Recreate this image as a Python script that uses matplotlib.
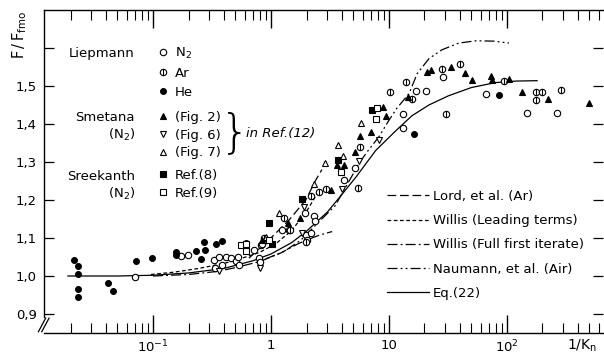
import numpy as np
import matplotlib.pyplot as plt
from matplotlib.lines import Line2D
from matplotlib.ticker import NullFormatter, LogLocator

plt.rcParams['font.family'] = ['DejaVu Sans']
plt.rcParams['mathtext.fontset'] = 'dejavusans'

# ---------------- DATA ----------------
# Liepmann, He (filled circles)
he_x = [0.0214, 0.0231, 0.0231, 0.0231, 0.0231, 0.0416, 0.0458, 0.0718, 0.098, 0.157,
        0.157, 0.231, 0.270, 0.276, 0.255, 0.342, 0.384, 0.614, 16.3, 85.5]
he_y = [1.042, 1.026, 1.005, 0.966, 0.945, 0.982, 0.961, 1.039, 1.047, 1.063,
        1.055, 1.066, 1.089, 1.068, 1.045, 1.084, 1.092, 1.087, 1.374, 1.476]

# Liepmann, N2 (open circles)
n2_x = [0.0704, 0.173, 0.198, 0.329, 0.362, 0.335, 0.385, 0.416, 0.458, 0.505, 0.525, 0.535,
        0.718, 0.791, 0.807, 0.823, 0.839, 0.889, 1.24, 1.42, 1.94, 2.31, 2.36, 1.98, 2.18, 2.02,
        4.16, 5.15, 13.1, 13.1, 16.9, 20.6, 28.7, 66.4, 148, 265]
n2_y = [0.997, 1.053, 1.055, 1.042, 1.050, 1.021, 1.029, 1.050, 1.047, 1.039, 1.050, 1.029,
        1.068, 1.047, 1.037, 1.082, 1.084, 1.095, 1.121, 1.121, 1.166, 1.158, 1.145, 1.108, 1.113, 1.095,
        1.253, 1.284, 1.426, 1.389, 1.487, 1.487, 1.524, 1.479, 1.429, 1.429]

# Liepmann, Ar (circle with bar)
ar_x = [1.98, 0.873, 1.29, 1.45, 2.18, 2.55, 2.92, 5.46, 5.68, 10.2, 13.9, 15.7,
        28.1, 40.0, 30.4, 94.4, 176, 198, 176, 287]
ar_y = [1.089, 1.100, 1.153, 1.121, 1.211, 1.221, 1.229, 1.232, 1.339, 1.484, 1.511, 1.466,
        1.545, 1.558, 1.426, 1.513, 1.484, 1.484, 1.463, 1.489]

# Smetana (N2): Fig. 2, Fig. 6, Fig. 7 in Ref.(12)
fig2_x = [0.839, 1.39, 1.76, 3.22, 3.62, 4.16, 5.15, 5.68, 7.03, 8.9, 9.44, 14.5,
          21.0, 22.7, 33.5, 44.0, 50.5, 73.1, 75.0, 104, 134, 222, 495]
fig2_y = [1.095, 1.139, 1.153, 1.226, 1.292, 1.292, 1.326, 1.368, 1.379, 1.445, 1.421, 1.471,
          1.537, 1.542, 1.550, 1.534, 1.516, 1.526, 1.516, 1.518, 1.484, 1.466, 1.455]
fig6_x = [0.362, 0.807, 1.83, 1.90, 4.0, 5.57, 8.2]
fig6_y = [1.013, 1.021, 1.113, 1.182, 1.229, 1.303, 1.358]
fig7_x = [0.907, 1.18, 2.31, 2.87, 3.70, 4.07, 5.79]
fig7_y = [1.103, 1.166, 1.242, 1.297, 1.345, 1.316, 1.403]

# Sreekanth (N2): Ref.(8) filled squares, Ref.(9) open squares
ref8_x = [0.962, 1.83, 3.70, 7.18, 1.02]
ref8_y = [1.139, 1.203, 1.305, 1.437, 1.084]
ref9_x = [0.557, 0.614, 0.614, 0.962, 3.92, 7.76, 7.91]
ref9_y = [1.082, 1.066, 1.084, 1.095, 1.274, 1.413, 1.442]

# theory curves
eq22_x = [0.019, 0.05, 0.1, 0.2, 0.4, 0.7, 1.0, 1.5, 2.0, 3.0, 4.0, 5.3, 7.7,
          11.4, 15.7, 21.8, 31.8, 50, 80, 120, 180]
eq22_y = [1.0, 1.0, 1.002, 1.008, 1.02, 1.04, 1.058, 1.088, 1.118, 1.168, 1.215, 1.262, 1.33,
          1.382, 1.422, 1.45, 1.474, 1.496, 1.509, 1.513, 1.514]
lord_x = [0.65, 0.96, 1.42, 1.97, 2.4, 2.7]
lord_y = [1.047, 1.095, 1.147, 1.2, 1.253, 1.28]
wlead_x = [0.096, 0.15, 0.245, 0.4, 0.57, 0.8, 1.1, 1.5, 2.0, 2.5]
wlead_y = [1.004, 1.01, 1.02, 1.033, 1.047, 1.062, 1.085, 1.12, 1.17, 1.22]
wfull_x = [0.1, 0.2, 0.35, 0.5, 0.8, 1.2, 1.7, 2.1, 2.6, 3.3]
wfull_y = [1.0, 1.004, 1.012, 1.022, 1.038, 1.06, 1.085, 1.097, 1.108, 1.117]
naum_x = [0.9, 1.3, 1.8, 2.5, 3.5, 4.5, 5.6, 6.5, 8.2, 10, 11.7, 14.8, 17.3,
          21.8, 28, 39, 55, 78, 104]
naum_y = [1.045, 1.065, 1.095, 1.14, 1.185, 1.245, 1.297, 1.326, 1.366, 1.41, 1.442, 1.48, 1.532,
          1.572, 1.595, 1.613, 1.619, 1.618, 1.613]

YTICKS = [0.9, 1.0, 1.1, 1.2, 1.3, 1.4, 1.5, 1.6]
YLABELS = ["0,9", "1,0", "1,1", "1,2", "1,3", "1,4", "1,5", ""]
XTICKS = [0.1, 1, 10, 100]
XLABELS = [r"$10^{-1}$", "1", "10", r"$10^{2}$"]

# ---------------- FIGURE ----------------
W, H = 604, 360
fig = plt.figure(figsize=(W / 100, H / 100), dpi=100)
AX_L, AX_R, AX_T, AX_B = 44, 603, 10, 333
ax = fig.add_axes([AX_L / W, 1 - AX_B / H, (AX_R - AX_L) / W, (AX_B - AX_T) / H])


def axpos(px, py):
    """pixel position in the picture -> axes fraction"""
    return (px - AX_L) / (AX_R - AX_L), (AX_B - py) / (AX_B - AX_T)


ax.set_xscale('log')
ax.set_xlim(10 ** -1.924, 10 ** 2.814)
ax.set_ylim(0.85, 1.7)

K = 'black'
lw = 0.9
ax.plot(eq22_x, eq22_y, color=K, lw=lw, ls='-')
ax.plot(lord_x, lord_y, color=K, lw=lw, ls=(0, (7, 3)))
ax.plot(wlead_x, wlead_y, color=K, lw=lw, ls=(0, (3, 2)))
ax.plot(wfull_x, wfull_y, color=K, lw=lw, ls=(0, (8, 2.5, 1.5, 2.5)))
ax.plot(naum_x, naum_y, color=K, lw=lw, ls=(0, (8, 2.5, 1.5, 2.5, 1.5, 2.5)))

ms = 4.6
mew = 0.8
h_n2, = ax.plot(n2_x, n2_y, 'o', ls='none', mfc='white', mec=K, ms=ms, mew=mew)
h_ar1, = ax.plot(ar_x, ar_y, 'o', ls='none', mfc='white', mec=K, ms=ms, mew=mew)
h_ar2, = ax.plot(ar_x, ar_y, '|', ls='none', color=K, ms=ms, mew=mew)
h_he, = ax.plot(he_x, he_y, 'o', ls='none', mfc=K, mec=K, ms=ms - 0.4, mew=mew)
h_f2, = ax.plot(fig2_x, fig2_y, '^', ls='none', mfc=K, mec=K, ms=ms, mew=mew)
h_f6, = ax.plot(fig6_x, fig6_y, 'v', ls='none', mfc='white', mec=K, ms=ms, mew=mew)
h_f7, = ax.plot(fig7_x, fig7_y, '^', ls='none', mfc='white', mec=K, ms=ms, mew=mew)
h_r8, = ax.plot(ref8_x, ref8_y, 's', ls='none', mfc=K, mec=K, ms=ms - 0.8, mew=mew)
h_r9, = ax.plot(ref9_x, ref9_y, 's', ls='none', mfc='white', mec=K, ms=ms - 0.8, mew=mew)

# ---------------- AXES STYLE ----------------
ax.set_xticks(XTICKS)
ax.set_xticklabels(XLABELS)
ax.xaxis.set_minor_locator(LogLocator(base=10, subs=np.arange(2, 10)))
ax.xaxis.set_minor_formatter(NullFormatter())
ax.set_yticks(YTICKS)
ax.set_yticklabels(YLABELS)
ax.tick_params(which='both', direction='in', top=True, right=True, labelsize=9.5, colors=K)
ax.tick_params(axis='x', which='major', length=13, width=1.0, pad=4)
ax.tick_params(axis='x', which='minor', length=7, width=0.8)
ax.tick_params(axis='y', which='major', length=7, width=0.9, pad=5)
ax.spines['right'].set_visible(False)
ax.spines['left'].set_bounds(0.893, 1.7)
for s in ['left', 'bottom', 'top']:
    ax.spines[s].set_linewidth(1.0)

# axis break marks
for dx in (0.0, 0.006):
    ax.plot([-0.010 + dx, 0.003 + dx], [0.004, 0.046], color=K, lw=0.9,
            transform=ax.transAxes, clip_on=False)

fig.text(10 / W, 1 - 11 / H, r'$\mathsf{F\,/\,F_{fmo}}$', rotation=90, ha='left', va='top', fontsize=10.5)
fig.text(582 / W, 1 - 346 / H, r'$\mathsf{1/K_n}$', ha='center', va='center', fontsize=10)

# ---------------- LEGENDS ----------------
fs = 9.5
gx, gy = axpos(135, 53)
ax.text(gx, gy, 'Liepmann', transform=ax.transAxes, ha='right', va='center', fontsize=fs)
gx, gy = axpos(135, 127)
ax.text(gx, gy, 'Smetana\n' + r'(N$_2$)', transform=ax.transAxes, ha='right', va='center',
        multialignment='right', fontsize=fs, linespacing=1.25)
gx, gy = axpos(135, 186)
ax.text(gx, gy, 'Sreekanth\n' + r'(N$_2$)', transform=ax.transAxes, ha='right', va='center',
        multialignment='right', fontsize=fs, linespacing=1.25)

common = dict(frameon=False, handlelength=0.9, handletextpad=0.45, borderpad=0, borderaxespad=0,
              fontsize=fs, loc='upper left')
leg1 = ax.legend([h_n2, (h_ar1, h_ar2), h_he], [r'N$_2$', 'Ar', 'He'],
                 bbox_to_anchor=axpos(157, 46), labelspacing=0.45, **common)
ax.add_artist(leg1)
leg2 = ax.legend([h_f2, h_f6, h_f7], ['(Fig. 2)', '(Fig. 6)', '(Fig. 7)'],
                 bbox_to_anchor=axpos(157, 111), labelspacing=0.35, **common)
ax.add_artist(leg2)
leg3 = ax.legend([h_r8, h_r9], ['Ref.(8)', 'Ref.(9)'],
                 bbox_to_anchor=axpos(157, 169), labelspacing=0.35, **common)
ax.add_artist(leg3)

bx, by = axpos(235, 133)
ax.text(bx, by, '}', transform=ax.transAxes, ha='center', va='center', fontsize=34,
        fontweight='light')
bx, by = axpos(246, 134)
ax.text(bx, by, 'in Ref.(12)', transform=ax.transAxes, ha='left', va='center', fontsize=fs,
        style='italic')

line_h = [Line2D([], [], color=K, lw=lw, ls=(0, (7, 3))),
          Line2D([], [], color=K, lw=lw, ls=(0, (3, 2))),
          Line2D([], [], color=K, lw=lw, ls=(0, (8, 2.5, 1.5, 2.5))),
          Line2D([], [], color=K, lw=lw, ls=(0, (8, 2.5, 1.5, 2.5, 1.5, 2.5))),
          Line2D([], [], color=K, lw=lw, ls='-')]
line_l = ['Lord, et al. (Ar)', 'Willis (Leading terms)', 'Willis (Full first iterate)',
          'Naumann, et al. (Air)', 'Eq.(22)']
leg4 = ax.legend(line_h, line_l, loc='upper left', bbox_to_anchor=axpos(387, 190),
                 frameon=False, handlelength=3.2, handletextpad=0.3, labelspacing=0.85,
                 borderpad=0, borderaxespad=0, fontsize=fs)

fig.savefig('out.png', dpi=100)
